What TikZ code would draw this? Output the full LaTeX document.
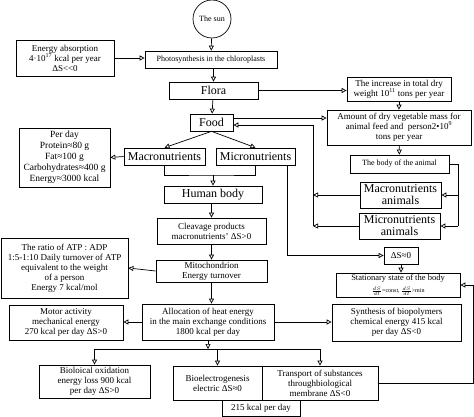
\documentclass[tikz,border=0pt]{standalone}
\usepackage{fontspec}
\setmainfont{Liberation Serif}
\usetikzlibrary{arrows.meta,calc}

\begin{document}
\begin{tikzpicture}[x=1pt,y=-1pt,line width=0.7pt,
    box/.style={draw,inner sep=0pt,align=center,font=\fontsize{9}{10}\selectfont},
    wh/.style 2 args={minimum width=#1pt,minimum height=#2pt},
    small/.style={font=\fontsize{8}{9}\selectfont},
    big/.style={font=\fontsize{12}{12.5}\selectfont},
    arr/.style={-{Triangle[open,length=5pt,width=5pt]}}]
    \useasboundingbox (0,0) rectangle (474,417);

    % sun and plants
    \node[draw,circle,inner sep=0pt,minimum size=38pt,small] (sun) at (212,19) {The sun};
    \node[box,wh={132}{17},small] (photo) at (211,59.5) {Photosynthesis in the chloroplasts};
    \node[box,wh={98}{36}] (energy) at (65,58) {Energy absorption\\4·10\textsuperscript{17} kcal per year\\ΔS<{}<0};
    \node[box,wh={89}{17},big] (flora) at (213.5,90.5) {Flora};
    \node[box,wh={104}{24}] (increase) at (399,89) {The increase in total dry\\weight 10\textsuperscript{11} tons per year};
    \node[box,wh={43}{17},big] (food) at (211.5,122.5) {Food};
    \node[box,wh={144}{35}] (amount) at (399,127.5) {Amount of dry vegetable mass for\\animal feed and\ \ person2•10\textsuperscript{9}\\tons per year};

    % nutrients
    \node[box,wh={91}{59},font=\fontsize{9.5}{11}\selectfont] (perday) at (64.5,157.5) {Per day\\Protein≈80 g\\Fat≈100 g\\Carbohydrates≈400 g\\Energy≈3000 kcal};
    \node[box,wh={81}{17},big] (macro) at (164.5,156.5) {Macronutrients};
    \node[box,wh={79}{17},big] (micro) at (255.5,156.5) {Micronutrients};
    \node[box,wh={99}{18},small] (animal) at (399.5,164) {The body of the animal};
    \node[box,wh={81}{26},font=\fontsize{12}{12}\selectfont] (macroA) at (400.5,195) {Macronutrients\\animals};
    \node[box,wh={81}{26},font=\fontsize{12}{12}\selectfont] (microA) at (399.5,226) {Micronutrients\\animals};

    % human body
    \node[box,wh={98}{17},big] (human) at (213,194.5) {Human body};
    \node[box,wh={109}{26}] (cleavage) at (211.5,231) {Cleavage products\\macronutrients' ΔS>0};
    \node[box,wh={34}{17}] (dS) at (401,255.5) {ΔS≈0};
    \node[box,wh={127}{60}] (atp) at (64.5,268) {The ratio of ATP : ADP\\1:5-1:10 Daily turnover of ATP\\equivalent to the weight\\of a person\\Energy 7 kcal/mol};
    \node[box,wh={111}{22}] (mito) at (211.5,271) {Mitochondrion\\Energy turnover};
    \node[box,wh={124}{24},font=\fontsize{8.5}{9}\selectfont] (stat) at (398,285) {Stationary state of the body\\[3pt]{\fontsize{6}{6}\selectfont$\frac{dS}{dt}$=const, $\frac{dS}{dt}$>min}};

    % energy use
    \node[box,wh={132}{36}] (alloc) at (208,322) {Allocation of heat energy\\in the main exchange conditions\\1800 kcal per day};
    \node[box,wh={114}{35}] (motor) at (66,322.5) {Motor activity\\mechanical energy\\270 kcal per day ΔS>0};
    \node[box,wh={129}{37}] (synth) at (396.5,322.5) {Synthesis of biopolymers\\chemical energy 415 kcal\\per day ΔS<0};
    \node[box,wh={111}{33}] (bio) at (94.5,381.5) {Bioloical oxidation\\energy loss 900 kcal\\per day ΔS>0};
    \node[box,wh={89}{34}] (elec) at (217.5,383) {Bioelectrogenesis\\electric ΔS≈0};
    \node[box,wh={116}{34}] (trans) at (320,383) {Transport of substances\\throughbiological\\membrane ΔS<0};
    \node[box,wh={78}{16}] (kcal) at (261,408) {215 kcal per day};

    % helper coordinates for the buses
    \coordinate (busL) at (313,0);
    \coordinate (busR) at (458,0);
    \coordinate (join) at (213,175);
    \coordinate (split) at (0,349);
    \coordinate (back) at (473,0);

    % arrows, top part
    \draw[arr] (sun) -- (photo);
    \draw[arr] (energy.east) -- (energy.east -| photo.west);
    \draw[arr] (photo.south -| flora) -- (flora);
    \draw[arr] (flora.east) -- (flora.east -| increase.west);
    \draw[arr] (flora) -- (food);
    \draw[arr] (increase) -- (amount);
    \draw[arr] ([yshift=4.5pt]food.east) -- ([yshift=4.5pt]food.east -| amount.west);
    \draw[arr] (amount) -- (animal);

    % animals back to food
    \draw (animal.east) -- (animal.east -| busR) -- (microA.east -| busR);
    \draw[arr] (macroA.east -| busR) -- (macroA.east);
    \draw[arr] (microA.east -| busR) -- (microA.east);
    \draw[arr] (macroA.west) -- (macroA.west -| busL);
    \draw[arr] (microA.west) -- (microA.west -| busL);
    \draw[arr] (microA.west -| busL) -- ([yshift=-2.5pt]food.east -| busL) -- ([yshift=-2.5pt]food.east);

    % nutrients to human body
    \draw[arr] (food.south) -- (macro.north);
    \draw[arr] (food.south) -- (micro.north);
    \draw[arr] (macro.west) -- (perday.east);
    \draw (macro.south) |- (join) -| (micro.south);
    \draw[arr] (join) -- (human.north);
    \draw[arr] ([xshift=31.5pt]micro.south) |- (dS.west);
    \draw[arr] (dS.south) -- (dS.south |- stat.north);

    % human body downwards
    \draw[arr] (human.south -| cleavage) -- (cleavage);
    \draw[arr] (cleavage) -- (mito);
    \draw[arr] (mito.west) -- (atp.east);
    \draw[arr] (mito.south) -- (mito.south |- alloc.north);
    \draw[arr] (alloc.west) -- (alloc.west -| motor.east);
    \draw[arr] (alloc.east) -- (alloc.east -| synth.west);

    % heat energy split
    \draw[arr] (alloc.south) -- (alloc.south |- split);
    \draw (bio.north |- split) -- (trans.north |- split);
    \draw[arr] (bio.north |- split) -- (bio.north);
    \draw[arr] (elec.north |- split) -- (elec.north);
    \draw[arr] (trans.north |- split) -- (trans.north);
    \draw[arr] (trans.east) -- (trans.east -| back) -- (stat.east -| back) -- (stat.east);
\end{tikzpicture}
\end{document}
